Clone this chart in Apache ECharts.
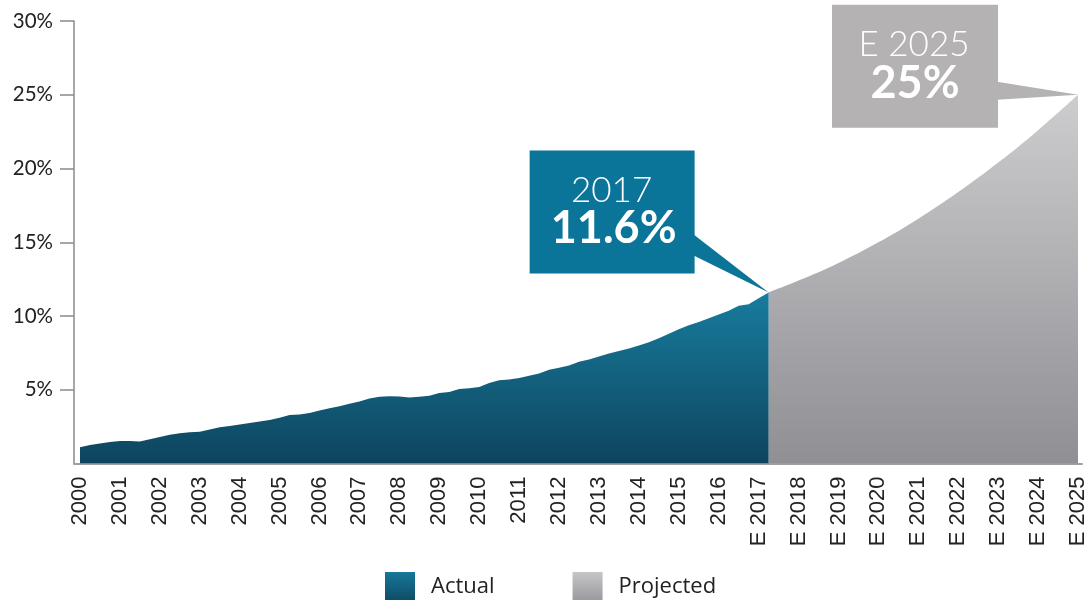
<!DOCTYPE html>
<html>
<head>
<meta charset="utf-8">
<script src="https://cdn.jsdelivr.net/npm/echarts@6/dist/echarts.min.js"></script>
<style>html,body{margin:0;padding:0;background:#fff;}#c{width:1084px;height:600px;}</style>
</head>
<body>
<div id="c"></div>
<script>
const actualYears = [2000,2000.25,2000.5,2000.75,2001,2001.25,2001.5,2001.75,2002,2002.25,2002.5,2002.75,2003,2003.25,2003.5,2003.75,2004,2004.25,2004.5,2004.75,2005,2005.25,2005.5,2005.75,2006,2006.25,2006.5,2006.75,2007,2007.25,2007.5,2007.75,2008,2008.25,2008.5,2008.75,2009,2009.25,2009.5,2009.75,2010,2010.25,2010.5,2010.75,2011,2011.25,2011.5,2011.75,2012,2012.25,2012.5,2012.75,2013,2013.25,2013.5,2013.75,2014,2014.25,2014.5,2014.75,2015,2015.25,2015.5,2015.75,2016,2016.25,2016.5,2016.75,2017,2017.25];
const actualValues = [1.1,1.25,1.35,1.45,1.52,1.52,1.5,1.65,1.8,1.95,2.05,2.12,2.15,2.3,2.45,2.55,2.65,2.75,2.85,2.95,3.1,3.28,3.32,3.42,3.6,3.74,3.88,4.05,4.2,4.4,4.53,4.56,4.55,4.48,4.52,4.6,4.78,4.85,5.05,5.1,5.18,5.46,5.64,5.7,5.8,5.95,6.1,6.35,6.5,6.65,6.9,7.05,7.25,7.45,7.62,7.8,8.0,8.22,8.5,8.8,9.1,9.38,9.6,9.85,10.1,10.35,10.7,10.8,11.2,11.6];
const projectedYears = [2017.25,2018,2019,2020,2021,2022,2023,2024,2025];
const projectedValues = [11.6,12.4,13.6,15.0,16.6,18.4,20.4,22.6,25.0];
const xTickYears = [2000,2001,2002,2003,2004,2005,2006,2007,2008,2009,2010,2011,2012,2013,2014,2015,2016,2017,2018,2019,2020,2021,2022,2023,2024,2025];
const lastActualYear = 2016;
const yTicks = [5,10,15,20,25,30];
const callout1 = {title: '2017', value: '11.6%'};
const callout2 = {title: 'E 2025', value: '25%'};

const blueGrad = new echarts.graphic.LinearGradient(0,0,0,1,[{offset:0,color:'#177c9d'},{offset:1,color:'#0e445d'}]);
const grayGrad = new echarts.graphic.LinearGradient(0,0,0,1,[{offset:0,color:'#cdcdcf'},{offset:1,color:'#8f8f94'}]);
const blueLeg = new echarts.graphic.LinearGradient(0,0,0,1,[{offset:0,color:'#17779a'},{offset:1,color:'#0f4a64'}]);
const grayLeg = new echarts.graphic.LinearGradient(0,0,0,1,[{offset:0,color:'#c6c6c8'},{offset:1,color:'#98989c'}]);

const chart = echarts.init(document.getElementById('c'), null, {renderer:'canvas'});
const option = {
  animation: false,
  grid: {left: 74, right: 2, top: 21, bottom: 136.5, containLabel: false, outerBoundsMode: 'none'},
  legend: {
    left: 385, top: 572, padding: 0, itemWidth: 30, itemHeight: 30, itemGap: 78,
    textStyle: {fontFamily: 'Open Sans', fontSize: 22, color: '#222', padding: [0,0,0,11]},
    data: [
      {name: 'Actual', icon: 'rect', itemStyle: {color: blueLeg}},
      {name: 'Projected', icon: 'rect', itemStyle: {color: grayLeg}}
    ],
    selectedMode: false
  },
  xAxis: {
    type: 'value', min: 1999.85, max: 2025.1,
    splitLine: {show: false},
    axisLine: {show: true, lineStyle: {color: '#a0a0a0', width: 2}},
    axisTick: {show: false},
    axisLabel: {
      customValues: xTickYears, rotate: 90, margin: 13,
      fontFamily: 'Liberation Sans', fontSize: 22, color: '#222',
      formatter: v => (v <= lastActualYear ? String(v) : 'E ' + v)
    }
  },
  yAxis: {
    type: 'value', min: 0, max: 30,
    splitLine: {show: false},
    axisLine: {show: true, lineStyle: {color: '#8a8a8a', width: 1.5}},
    axisTick: {show: true, customValues: yTicks, length: 14, lineStyle: {color: '#8a8a8a', width: 1.5}},
    axisLabel: {customValues: yTicks, margin: 21, fontFamily: 'Lato', fontSize: 20.5, color: '#222', formatter: v => v + '%'}
  },
  series: [
    {
      name: 'Actual', type: 'line', symbol: 'none', z: 3,
      data: actualYears.map((y, i) => [y, actualValues[i]]),
      lineStyle: {width: 0}, itemStyle: {color: '#137596'},
      areaStyle: {color: blueGrad, opacity: 1}
    },
    {
      name: 'Projected', type: 'line', symbol: 'none', smooth: 0.4, z: 2,
      data: projectedYears.map((y, i) => [y, projectedValues[i]]),
      lineStyle: {width: 0}, itemStyle: {color: '#b0b0b3'},
      areaStyle: {color: grayGrad, opacity: 1}
    }
  ]
};
chart.setOption(option);

function addCallouts() {
  const a1 = chart.convertToPixel({gridIndex: 0}, [actualYears[actualYears.length-1], actualValues[actualValues.length-1]]);
  const a2 = chart.convertToPixel({gridIndex: 0}, [projectedYears[projectedYears.length-1], projectedValues[projectedValues.length-1]]);
  const b1 = {x: a1[0] - 239, y: a1[1] - 142, w: 165, h: 123};
  const b2 = {x: a2[0] - 246, y: a2[1] - 90, w: 166, h: 123};
  const blue = '#0b7599', gray = '#b4b2b3';
  const els = [
    {type: 'polygon', shape: {points: [[b1.x + b1.w - 1, a1[1] - 58], [a1[0], a1[1]], [b1.x + b1.w - 1, a1[1] - 37]]}, style: {fill: blue}, z: 10},
    {type: 'rect', shape: {x: b1.x, y: b1.y, width: b1.w, height: b1.h}, style: {fill: blue}, z: 10},
    {type: 'text', x: b1.x + 82, y: b1.y + 40, style: {text: callout1.title, fill: '#fff', font: '300 35px Lato', align: 'center', verticalAlign: 'middle'}, z: 11},
    {type: 'text', x: b1.x + 84, y: b1.y + 78, style: {text: callout1.value, fill: '#fff', font: 'bold 45px Lato', align: 'center', verticalAlign: 'middle'}, z: 11},
    {type: 'polygon', shape: {points: [[b2.x + b2.w - 1, a2[1] - 13], [a2[0], a2[1]], [b2.x + b2.w - 1, a2[1] + 5]]}, style: {fill: gray}, z: 10},
    {type: 'rect', shape: {x: b2.x, y: b2.y, width: b2.w, height: b2.h}, style: {fill: gray}, z: 10},
    {type: 'text', x: b2.x + 82, y: b2.y + 40, style: {text: callout2.title, fill: '#fff', font: '300 35px Lato', align: 'center', verticalAlign: 'middle'}, z: 11},
    {type: 'text', x: b2.x + 83, y: b2.y + 79, style: {text: callout2.value, fill: '#fff', font: 'bold 45px Lato', align: 'center', verticalAlign: 'middle'}, z: 11}
  ];
  chart.setOption({graphic: {elements: els}});
}
addCallouts();
</script>
</body>
</html>
